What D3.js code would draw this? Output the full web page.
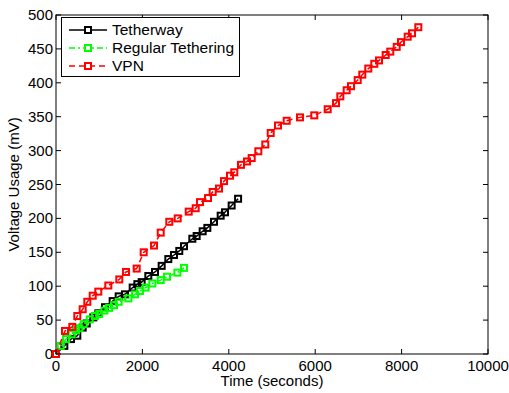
<!DOCTYPE html>
<html lang="en">
<head>
    <meta charset="UTF-8">
    <script src="https://d3js.org/d3.v7.min.js"></script>
    <title>Voltage Usage</title>
    <style>
        body { margin: 0; background: white; }
        text { font-family: "Liberation Sans", Arial, sans-serif; }
    </style>
</head>
<body>
<div id="chart"></div>
<script>

// time (seconds) / voltage (mV)
var tetherTime = [0,193,347,493,618,711,864,980,1134,1312,1451,1597,1775,1883,1983,2137,2292,2446,2600,2731,2854,2963,3156,3256,3395,3503,3657,3812,3912,4066,4215]
var tetherVolt = [0,12,22,27,39,45,54,60,69,78,85,88,98,103,106,115,121,130,140,146,152,159,170,174,181,186,195,204,209,219,229]

var regularTime = [0,110,231,363,463,540,640,780,900,1000,1120,1230,1343,1450,1675,1829,1944,2075,2230,2424,2570,2810,2963]
var regularVolt = [0,12,22,29,35,38,44,51,56,59,64,68,72,77,82,88,93,98,104,109,114,120,127]

var vpnTime = [0,208,377,493,618,725,850,979,1211,1465,1620,1868,2030,2269,2424,2623,2817,3072,3234,3333,3519,3627,3773,3889,4028,4127,4282,4421,4530,4683,4845,4970,5139,5340,5648,5979,6289,6481,6581,6729,6829,6984,7090,7229,7368,7477,7632,7738,7887,7986,8141,8241,8387]
var vpnVolt = [0,34,40,56,66,77,86,92,101,110,121,126,150,160,179,195,200,210,215,224,230,239,244,255,263,268,279,284,289,299,309,326,337,344,349,352,361,370,380,389,395,404,412,421,428,433,441,446,453,460,468,473,482]

var xTicks = [0,2000,4000,6000,8000,10000]
var yTicks = [0,50,100,150,200,250,300,350,400,450,500]

var seriesNames = ["Tetherway", "Regular Tethering", "VPN"]
var seriesColors = ["#000000", "#00ff00", "#ff0000"]
var seriesDash = [null, "6,3,2,3", "6,4"]

var width = 509
var height = 393
var margin = {left: 56, right: 21, top: 15, bottom: 39}

function zip(xs, ys) {
    return xs.map(function(x, i) { return [x, ys[i]] })
}
var series = [zip(tetherTime, tetherVolt), zip(regularTime, regularVolt), zip(vpnTime, vpnVolt)]

var svg = d3.select("#chart").append("svg")
    .attr("width", width)
    .attr("height", height)

var x = d3.scaleLinear().domain([0, 10000]).range([margin.left, width - margin.right])
var y = d3.scaleLinear().domain([0, 500]).range([height - margin.bottom, margin.top])

var x0 = x.range()[0], x1 = x.range()[1]
var y0 = y.range()[0], y1 = y.range()[1]

// ticks point inward, on all four sides (matlab box style)
var tickLen = 5
var ticks = svg.append("g").attr("stroke", "black").attr("stroke-width", 1)
xTicks.forEach(function(t) {
    ticks.append("line").attr("x1", x(t)).attr("x2", x(t)).attr("y1", y0).attr("y2", y0 - tickLen)
    ticks.append("line").attr("x1", x(t)).attr("x2", x(t)).attr("y1", y1).attr("y2", y1 + tickLen)
})
yTicks.forEach(function(t) {
    ticks.append("line").attr("x1", x0).attr("x2", x0 + tickLen).attr("y1", y(t)).attr("y2", y(t))
    ticks.append("line").attr("x1", x1).attr("x2", x1 - tickLen).attr("y1", y(t)).attr("y2", y(t))
})

svg.append("g").selectAll("text")
    .data(xTicks).enter().append("text")
    .attr("x", function(d) { return x(d) })
    .attr("y", y0 + 17)
    .attr("text-anchor", "middle")
    .attr("font-size", 15)
    .text(function(d) { return d })

svg.append("g").selectAll("text")
    .data(yTicks).enter().append("text")
    .attr("x", x0 - 3)
    .attr("y", function(d) { return y(d) + 5 })
    .attr("text-anchor", "end")
    .attr("font-size", 15)
    .text(function(d) { return d })

svg.append("text")
    .attr("x", (x0 + x1) / 2)
    .attr("y", 386)
    .attr("text-anchor", "middle")
    .attr("font-size", 15)
    .text("Time (seconds)")

svg.append("text")
    .attr("transform", "translate(19," + ((y0 + y1) / 2) + ") rotate(-90)")
    .attr("text-anchor", "middle")
    .attr("font-size", 15)
    .text("Voltage Usage (mV)")

var line = d3.line()
    .x(function(d) { return x(d[0]) })
    .y(function(d) { return y(d[1]) })

var plot = svg.append("g")
series.forEach(function(s, i) {
    plot.append("path")
        .datum(s)
        .attr("d", line)
        .attr("fill", "none")
        .attr("stroke", seriesColors[i])
        .attr("stroke-width", 1.5)
        .attr("stroke-dasharray", seriesDash[i])
    plot.selectAll(".m" + i)
        .data(s).enter().append("rect")
        .attr("class", "m" + i)
        .attr("x", function(d) { return x(d[0]) - 3 })
        .attr("y", function(d) { return y(d[1]) - 3 })
        .attr("width", 6)
        .attr("height", 6)
        .attr("fill", "none")
        .attr("stroke", seriesColors[i])
        .attr("stroke-width", 2)
})

// frame
svg.append("rect")
    .attr("x", x0).attr("y", y1)
    .attr("width", x1 - x0).attr("height", y0 - y1)
    .attr("fill", "none").attr("stroke", "black").attr("stroke-width", 1)

// legend
var legend = svg.append("g")
legend.append("rect")
    .attr("x", 61.5).attr("y", 17.5)
    .attr("width", 178).attr("height", 59)
    .attr("fill", "white").attr("stroke", "black").attr("stroke-width", 1)

seriesNames.forEach(function(name, i) {
    var ly = 30 + i * 18
    legend.append("line")
        .attr("x1", 69).attr("x2", 107).attr("y1", ly).attr("y2", ly)
        .attr("stroke", seriesColors[i]).attr("stroke-width", 1.5)
        .attr("stroke-dasharray", seriesDash[i])
    legend.append("rect")
        .attr("x", 85).attr("y", ly - 3).attr("width", 6).attr("height", 6)
        .attr("fill", "white").attr("stroke", seriesColors[i]).attr("stroke-width", 2)
    legend.append("text")
        .attr("x", 112).attr("y", ly + 5)
        .attr("font-size", 15.5)
        .text(name)
})

</script>
</body>
</html>
